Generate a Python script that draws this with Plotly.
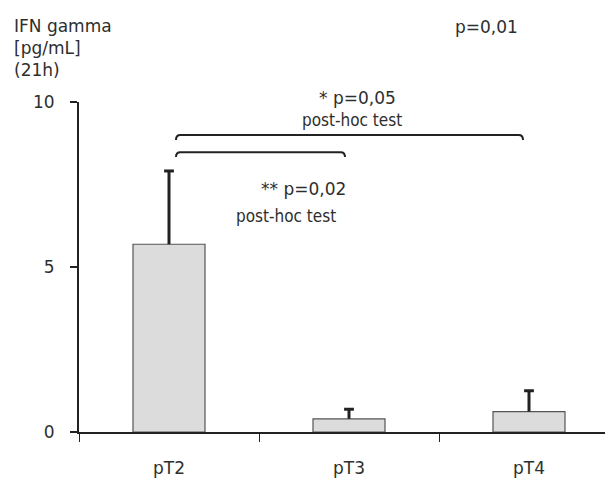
import plotly.graph_objects as go

categories = ["pT2", "pT3", "pT4"]
means = [5.69, 0.40, 0.62]
errors_up = [2.22, 0.29, 0.63]
y_tickvals = [0, 5, 10]
y_ticktext = ["0", "5", "10"]

FONT = "DejaVu Sans"
TXT = "#2e2e2e"
OFF = 8  # default page body margin

fig = go.Figure()
fig.add_trace(go.Bar(
    x=categories, y=means, width=0.4,
    marker=dict(color="#dcdcdc", line=dict(color="#555555", width=1.2)),
    hoverinfo="skip",
))

# upper-only error bars built from the data
ex, ey = [], []
for c, m, e in zip(categories, means, errors_up):
    ex += [c, c, None]
    ey += [m, m + e, None]
fig.add_trace(go.Scatter(x=ex, y=ey, mode="lines",
                         line=dict(color="#222222", width=3), hoverinfo="skip"))
fig.add_trace(go.Scatter(x=categories, y=[m + e for m, e in zip(means, errors_up)],
                         mode="markers", hoverinfo="skip",
                         marker=dict(symbol="line-ew", size=7,
                                     line=dict(color="#222222", width=3))))

W, H = 613 - OFF, 479 - OFF
L, R, T = 79 - OFF, 0, 102 - OFF
B = H - (432.5 - OFF)
pw = W - L - R
ph = H - T - B

def px(x):
    return (x - OFF - L) / pw

def py(y):
    return 1 - (y - OFF - T) / ph

def bracket(x0, x1, y, drop):
    d = 0.008
    return (f"M {x0},{y-drop} Q {x0},{y} {x0+d},{y} L {x1-d},{y} "
            f"Q {x1},{y} {x1},{y-drop}")

for (a, b, yv) in [(176, 523, 9.0), (176, 345, 8.48)]:
    fig.add_shape(type="path", xref="paper", yref="y",
                  path=bracket(px(a), px(b), yv, 0.15),
                  line=dict(color="#222222", width=2))

def ann(text, x, y, size=17, xa="center", ya="middle", family=FONT):
    fig.add_annotation(text=text, xref="paper", yref="paper",
                       x=px(x), y=py(y),
                       xanchor=xa, yanchor=ya, showarrow=False,
                       font=dict(family=family, size=size, color=TXT), align="left")

ann("IFN gamma<br>[pg/mL]<br>(21h)", 12, 14, xa="left", ya="top")
ann("p=0,01", 486, 27)
ann("* p=0,05", 357, 98)
ann("post-hoc test", 352, 120, size=17, family="DejaVu Sans Condensed")
ann("** p=0,02", 303, 189)
ann("post-hoc test", 286, 216, size=17, family="DejaVu Sans Condensed")

fig.update_layout(
    width=W, height=H,
    margin=dict(l=L, r=R, t=T, b=B),
    plot_bgcolor="white", paper_bgcolor="white",
    showlegend=False,
    font=dict(family=FONT, size=17, color=TXT),
    xaxis=dict(range=[-0.5, -0.5 + pw / 180], showline=True, linecolor="#222222",
               linewidth=2, ticks="outside", tickson="boundaries", ticklen=8,
               tickcolor="#222222", tickwidth=1, showgrid=False, zeroline=False,
               ticklabelstandoff=20, fixedrange=True),
    yaxis=dict(range=[0, 10], tickvals=y_tickvals, ticktext=y_ticktext,
               showline=True, linecolor="#222222", linewidth=2, ticks="outside",
               ticklen=7, tickcolor="#222222", tickwidth=2, showgrid=False,
               zeroline=False, ticklabelstandoff=12),
)

fig.write_html("out.html")
